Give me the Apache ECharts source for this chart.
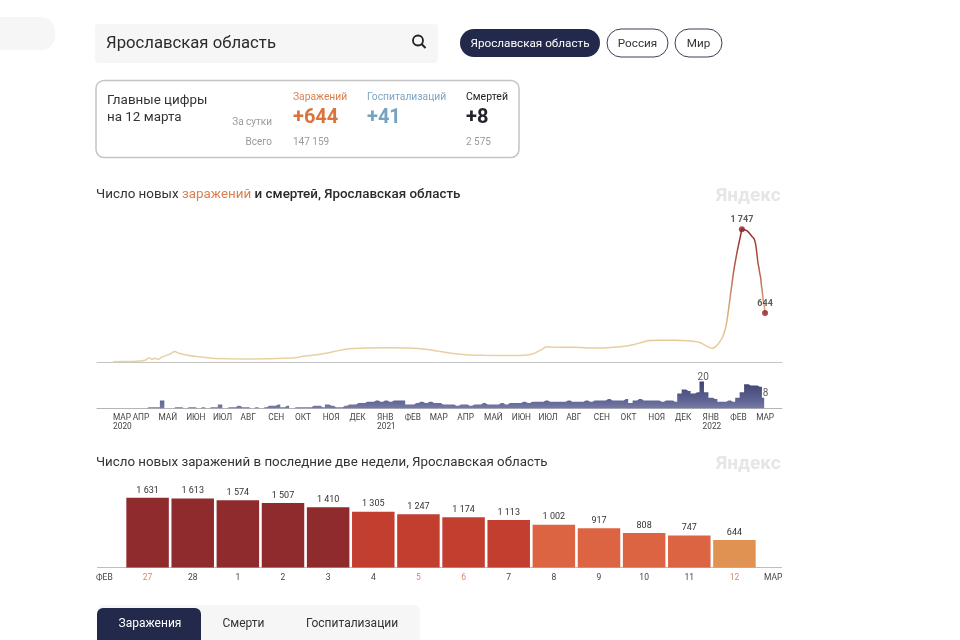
<!DOCTYPE html>
<html>
<head>
<meta charset="utf-8">
<style>html,body{margin:0;padding:0;background:#fff}#c{width:960px;height:640px}</style>
<script src="https://cdn.jsdelivr.net/npm/echarts@6/dist/echarts.min.js"></script>
</head>
<body>
<div id="c"></div>
<script>
const FONT = 'Roboto, "Noto Sans", sans-serif';

const caseDates = ['2020-03-11','2020-04-01','2020-04-10','2020-04-16','2020-04-20','2020-04-24','2020-04-27','2020-05-01','2020-05-04','2020-05-08','2020-05-13','2020-05-19','2020-05-24','2020-06-01','2020-06-15','2020-07-01','2020-07-20','2020-08-15','2020-09-10','2020-10-01','2020-10-10','2020-10-25','2020-11-05','2020-11-20','2020-12-01','2020-12-20','2021-01-15','2021-02-05','2021-02-25','2021-03-10','2021-03-25','2021-04-10','2021-05-01','2021-06-01','2021-06-15','2021-06-25','2021-07-05','2021-07-10','2021-07-15','2021-08-10','2021-09-05','2021-10-01','2021-10-15','2021-11-01','2021-11-15','2021-12-01','2021-12-15','2021-12-28','2022-01-05','2022-01-11','2022-01-16','2022-01-22','2022-01-25','2022-01-28','2022-02-01','2022-02-05','2022-02-09','2022-02-13','2022-02-14','2022-02-20','2022-02-24','2022-02-27','2022-02-28','2022-03-01','2022-03-02','2022-03-03','2022-03-04','2022-03-05','2022-03-06','2022-03-07','2022-03-08','2022-03-09','2022-03-10','2022-03-11','2022-03-12'];
const caseValues = [3,8,12,22,55,35,50,35,62,80,100,137,115,92,68,48,42,40,45,55,75,95,115,153,173,183,187,183,167,143,114,97,88,85,88,108,167,200,196,193,183,200,226,279,285,285,279,259,213,180,206,298,377,522,863,1205,1468,1690,1747,1725,1670,1631,1613,1574,1507,1410,1305,1247,1174,1113,1002,917,808,747,644];

const deathStart = '2020-03-11';
const deathStepDays = 5;
const deathValues = [0,0,0,0,0,0,0,0,1,1,1,6,0,0,1,1,0,1,1,0,1,0,1,1,3,0,1,1,2,1,1,0,1,0,1,2,2,3,1,2,0,1,1,1,1,2,2,1,3,2,1,1,2,3,3,4,4,5,5,6,5,6,5,6,6,6,3,3,4,5,4,5,4,4,3,3,3,2,3,3,2,3,3,4,3,3,3,4,3,4,4,4,5,4,5,5,5,6,5,5,5,5,6,5,5,5,6,5,6,6,6,7,6,6,6,7,4,6,7,6,6,6,6,5,6,6,5,11,14,13,11,12,20,12,8,7,5,5,6,5,8,12,18,17,17,16,8];

const monthTicks = ['2020-03-11','2020-04-02','2020-05-01','2020-06-01','2020-07-01','2020-08-01','2020-09-01','2020-10-01','2020-11-01','2020-12-01','2021-01-01','2021-02-01','2021-03-01','2021-04-01','2021-05-01','2021-06-01','2021-07-01','2021-08-01','2021-09-01','2021-10-01','2021-11-01','2021-12-01','2022-01-01','2022-02-01','2022-03-02'];
const monthLabels = ['МАР\n2020','АПР','МАЙ','ИЮН','ИЮЛ','АВГ','СЕН','ОКТ','НОЯ','ДЕК','ЯНВ\n2021','ФЕВ','МАР','АПР','МАЙ','ИЮН','ИЮЛ','АВГ','СЕН','ОКТ','НОЯ','ДЕК','ЯНВ\n2022','ФЕВ','МАР'];

const dayCategories = ['27','28','1','2','3','4','5','6','7','8','9','10','11','12'];
const dayValues = [1631,1613,1574,1507,1410,1305,1247,1174,1113,1002,917,808,747,644];
const dayWeekend = ['27','5','6','12'];

const thousands = v => String(v).replace(/\B(?=(\d{3})+$)/g, ' ');
const dayNo = s => { const p = s.split('-').map(Number); return Math.round((Date.UTC(p[0], p[1]-1, p[2]) - Date.UTC(2020,2,11))/86400000); };
const barColor = v => v >= 1400 ? '#8f2a2d' : v >= 1100 ? '#c23f30' : v >= 700 ? '#dd6443' : '#e09252';

const caseData = caseDates.map((d,i)=>[dayNo(d), caseValues[i]]);
const deathData = deathValues.map((v,i)=>[dayNo(deathStart)+i*deathStepDays, v]);
const peakIdx = caseValues.indexOf(Math.max(...caseValues));
const lastIdx = caseValues.length-1;
const deathPeak = deathValues.indexOf(Math.max(...deathValues));
const deathLast = deathValues.length-1;
const tickDays = monthTicks.map(dayNo);
const X_MIN = dayNo('2020-02-22'), X_MAX = dayNo('2022-03-31');

const txt = (x,y,t,size,fill,extra) => ({type:'text',x,y,silent:true,style:Object.assign({text:t,fontSize:size,fill,fontFamily:FONT,verticalAlign:'middle',align:'left'},extra||{})});
const rect = (x,y,w,h,fill,r,extra) => ({type:'rect',silent:true,shape:{x,y,width:w,height:h,r:r||0},style:Object.assign({fill},extra||{})});
const DARK = '#22294a';

const graphics = [
  rect(-20,17,75,33,'#f6f6f6',14),
  rect(95,24,343,39,'#f6f6f6',4),
  txt(106,43.5,'Ярославская область',16.7,'#2b2b2b'),
  {type:'circle',silent:true,shape:{cx:418,cy:40.5,r:5},style:{fill:'none',stroke:'#222',lineWidth:1.8}},
  {type:'line',silent:true,shape:{x1:421.5,y1:44,x2:425.5,y2:48},style:{stroke:'#222',lineWidth:2}},
  rect(460,29,140,28,DARK,14),
  txt(530,44,'Ярославская область',11.7,'#fff',{align:'center'}),
  rect(607,29,61,28,'#fff',14,{stroke:'#3a3f55',lineWidth:1}),
  txt(637.5,44,'Россия',11.7,'#333',{align:'center'}),
  rect(675,29,47,28,'#fff',14,{stroke:'#3a3f55',lineWidth:1}),
  txt(698.5,44,'Мир',11.7,'#333',{align:'center'}),

  rect(96,80.5,423,77,'#fff',8,{stroke:'#c4c4c4',lineWidth:1.5}),
  txt(107,101,'Главные цифры',13.4,'#333'),
  txt(107,118,'на 12 марта',13.4,'#333'),
  txt(272,122,'За сутки',10,'#9a9a9a',{align:'right'}),
  txt(272,142,'Всего',10,'#9a9a9a',{align:'right'}),
  txt(293,97.5,'Заражений',10.3,'#d9804f'),
  txt(293,118,'+644',20,'#d9743f',{fontWeight:'bold'}),
  txt(293,142,'147 159',10,'#9a9a9a'),
  txt(367,97.5,'Госпитализаций',10.3,'#7ba5c2'),
  txt(367,118,'+41',20,'#74a4c0',{fontWeight:'bold'}),
  txt(466,97.5,'Смертей',10.5,'#222'),
  txt(466,118,'+8',20,'#22242c',{fontWeight:'bold'}),
  txt(466,142,'2 575',10,'#9a9a9a'),

  txt(716,196,'Яндекс',19,'#e6e6e6',{fontWeight:'bold'}),
  txt(716,464,'Яндекс',19,'#e6e6e6',{fontWeight:'bold'}),

  {type:'line',silent:true,shape:{x1:97,y1:567.5,x2:125,y2:567.5},style:{stroke:'#bdbdbd',lineWidth:1}},
  {type:'line',silent:true,shape:{x1:757,y1:567.5,x2:782,y2:567.5},style:{stroke:'#bdbdbd',lineWidth:1}},
  txt(96,577.5,'ФЕВ',8.5,'#444'),
  txt(764,577.5,'МАР',8.5,'#444'),

  rect(97,605,323,40,'#f6f6f6',6),
  rect(97,608,104,40,DARK,6),
  txt(150,624,'Заражения',12,'#fff',{align:'center'}),
  txt(243.5,624,'Смерти',12,'#333',{align:'center'}),
  txt(352,624,'Госпитализации',12,'#333',{align:'center'})
];

const chart = echarts.init(document.getElementById('c'));
chart.setOption({
  animation:false,
  textStyle:{fontFamily:FONT},
  title:[
    {left:96,top:188,padding:0,text:'{a|Число новых }{b|заражений}{c| и смертей}{c|, Ярославская область}',
     textStyle:{fontWeight:'normal',rich:{a:{fontSize:13.4,fontWeight:'normal',color:'#333',fontFamily:FONT},b:{fontSize:13.4,fontWeight:'normal',color:'#d9804f',fontFamily:FONT},c:{fontSize:13.4,fontWeight:500,color:'#2a2a2a',fontFamily:FONT}}}},
    {left:96,top:456,padding:0,text:'Число новых заражений в последние две недели, Ярославская область',
     textStyle:{fontSize:13.3,fontWeight:'normal',color:'#333',fontFamily:FONT}}
  ],
  grid:[
    {left:97,width:685,top:210,height:152},
    {left:97,width:685,top:376,height:32.5},
    {left:125,width:632,top:482,height:85.5}
  ],
  xAxis:[
    {gridIndex:0,type:'value',min:X_MIN,max:X_MAX,splitLine:{show:false},axisTick:{show:false},axisLabel:{show:false},axisLine:{onZero:false,lineStyle:{color:'#c4c4c4',width:1}}},
    {gridIndex:1,type:'value',min:X_MIN,max:X_MAX,splitLine:{show:false},axisTick:{show:false},axisLine:{onZero:false,lineStyle:{color:'#b5b5b5',width:1}},
     axisLabel:{customValues:tickDays,formatter:v=>monthLabels[tickDays.indexOf(v)],align:'left',fontSize:8.3,lineHeight:9,color:'#444',margin:5,hideOverlap:false,showMinLabel:true,showMaxLabel:true}},
    {gridIndex:2,type:'category',data:dayCategories,axisTick:{show:false},axisLine:{lineStyle:{color:'#bdbdbd',width:1}},
     axisLabel:{fontSize:8.5,margin:6,interval:0,color:p=>dayWeekend.includes(p)?'#d9886a':'#444'}}
  ],
  yAxis:[
    {gridIndex:0,type:'value',min:0,max:2000,show:false},
    {gridIndex:1,type:'value',min:0,max:24,show:false},
    {gridIndex:2,type:'value',min:0,max:2000,show:false}
  ],
  series:[
    {type:'line',xAxisIndex:0,yAxisIndex:0,data:caseData,symbol:'none',smooth:0.25,z:3,clip:false,
     lineStyle:{width:1.5,color:new echarts.graphic.LinearGradient(0,0,0,1,[
       {offset:0,color:'#8f2a2d'},{offset:0.3,color:'#b55a48'},{offset:0.6,color:'#dca777'},{offset:0.85,color:'#e8cd9b'},{offset:1,color:'#ead2a5'}])}},
    {type:'scatter',xAxisIndex:0,yAxisIndex:0,symbolSize:6,z:4,itemStyle:{color:'#8f1f28'},
     data:[caseData[peakIdx],caseData[lastIdx]],
     label:{show:true,position:'top',distance:2,fontSize:9,fontWeight:'bold',color:'#333',formatter:p=>thousands(p.value[1])}},
    {type:'line',xAxisIndex:1,yAxisIndex:1,data:deathData,step:'middle',symbol:'none',z:3,
     lineStyle:{width:0},
     areaStyle:{opacity:1,color:new echarts.graphic.LinearGradient(0,0,0,1,[{offset:0,color:'#3c416f'},{offset:0.7,color:'#5f6494'},{offset:1,color:'#777ba6'}])}},
    {type:'scatter',xAxisIndex:1,yAxisIndex:1,symbolSize:1,z:4,itemStyle:{color:'rgba(0,0,0,0)'},
     data:[deathData[deathPeak],deathData[deathLast]],
     label:{show:true,position:'top',distance:1,offset:[1.5,2.5],fontSize:10,color:'#333',formatter:p=>String(p.value[1])}},
    {type:'bar',xAxisIndex:2,yAxisIndex:2,barWidth:42.5,
     data:dayValues.map(v=>({value:v,itemStyle:{color:barColor(v)}})),
     label:{show:true,position:'top',distance:3,fontSize:9,color:'#333',formatter:p=>thousands(p.value)}}
  ],
  graphic:graphics
});
</script>
</body>
</html>
